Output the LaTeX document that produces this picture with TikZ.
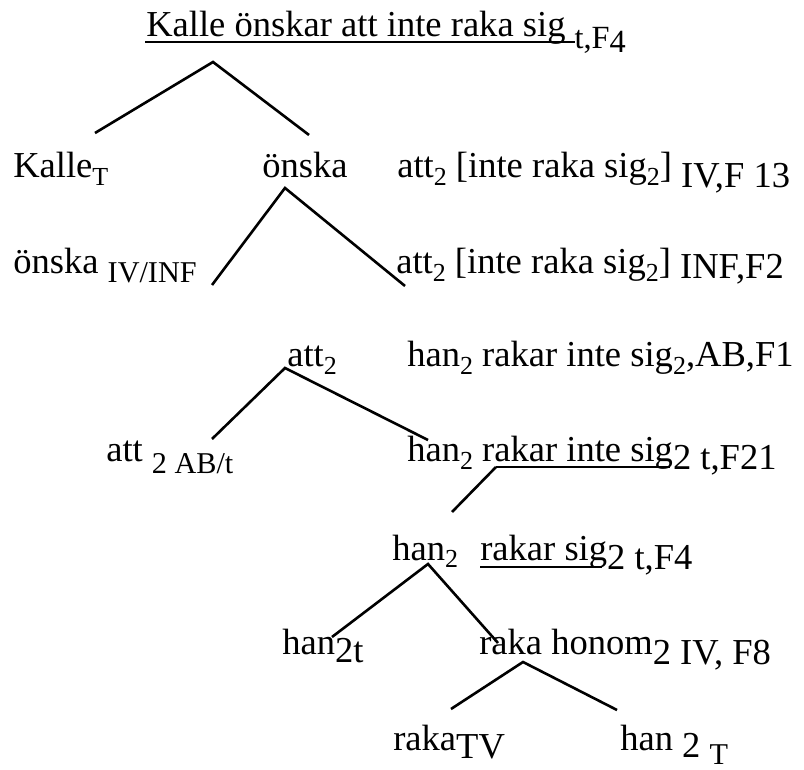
\documentclass[tikz,border=0pt]{standalone}
\usepackage{fontspec}
\setmainfont{Liberation Serif}
\newcommand{\lo}[2][0.2]{\raisebox{-#1cm}{\fontsize{18.5}{20}\selectfont #2}}
\newcommand{\lob}[2][0.2]{\raisebox{-#1cm}{\fontsize{21.5}{23}\selectfont #2}}
\newcommand{\dn}[2][0.25]{\raisebox{-#1cm}{#2}}
\begin{document}
\begin{tikzpicture}[
    lbl/.style={anchor=base west,inner sep=0pt,font=\fontsize{26}{30}\selectfont},
    branch/.style={black,line width=0.065cm},
    uline/.style={black,line width=0.045cm}]
    \useasboundingbox (0,0) rectangle (20.1,19.225);
    \node[lbl] (ttl) at (3.650, 18.300) {Kalle önskar att inte raka sig {\fontsize{23}{25}\selectfont\dn[0.3]{t,F\raisebox{-0.08cm}{4}}}};
    \node[lbl] (kal) at (0.325, 14.775) {Kalle\lo{T}};
    \node[lbl] (on1) at (6.550, 14.775) {önska};
    \node[lbl] (at1) at (9.925, 14.775) {att\lo{2} [inte raka sig\lo{2}] \dn[0.25]{IV,F 13}};
    \node[lbl] (on2) at (0.325, 12.375) {önska \lob[0.22]{IV/INF}};
    \node[lbl] (at2) at (9.900, 12.375) {att\lo{2} [inte raka sig\lo{2}] \dn[0.12]{INF,F2}};
    \node[lbl] (at3) at (7.175, 10.050) {att\lo{2}};
    \node[lbl] (ha1) at (10.175, 10.050) {han\lo{2} rakar inte sig\lo{2},AB,F1};
    \node[lbl] (at4) at (2.650, 7.675) {att \lob[0.28]{2 AB/t}};
    \node[lbl] (ha2) at (10.175, 7.675) {han\lo{2} rakar inte sig\dn[0.2]{2 t,F21}};
    \node[lbl] (ha3) at (9.800, 5.225) {han\lo{2}};
    \node[lbl] (rk1) at (12.000, 5.225) {rakar sig\dn{2 t,F4}};
    \node[lbl] (ha4) at (7.050, 2.875) {han\dn[0.22]{2t}};
    \node[lbl] (rk2) at (11.975, 2.875) {raka honom\dn{2 IV, F8}};
    \node[lbl] (rk3) at (9.825, 0.475) {raka\dn[0.2]{TV}};
    \node[lbl] (ha5) at (15.500, 0.475) {han \dn[0.18]{2} \lob[0.36]{T}};
    % branch ends
    \coordinate (t0) at (5.325, 17.675);
    \coordinate (t1) at (2.375, 15.900);
    \coordinate (t2) at (7.725, 15.850);
    \coordinate (o0) at (7.125, 14.525);
    \coordinate (o1) at (5.300, 12.100);
    \coordinate (o2) at (10.125, 12.075);
    \coordinate (a0) at (7.125, 10.025);
    \coordinate (a1) at (5.300, 8.250);
    \coordinate (a2) at (10.700, 8.225);
    \coordinate (u0) at (12.400, 7.550);
    \coordinate (u1) at (16.750, 7.550);
    \coordinate (h1) at (11.300, 6.425);
    \coordinate (h0) at (10.700, 5.125);
    \coordinate (h2) at (8.300, 3.300);
    \coordinate (h3) at (12.450, 3.150);
    \coordinate (r0) at (13.075, 2.675);
    \coordinate (r1) at (11.275, 1.500);
    \coordinate (r2) at (15.425, 1.475);
    \coordinate (v0) at (3.625, 18.175);
    \coordinate (v1) at (14.375, 18.175);
    \coordinate (w0) at (12.000, 5.050);
    \coordinate (w1) at (15.050, 5.050);
    \draw[branch] (t1) -- (t0) -- (t2);
    \draw[branch] (o1) -- (o0) -- (o2);
    \draw[branch] (a1) -- (a0) -- (a2);
    \draw[branch] (h1) -- (u0);
    \draw[branch] (h2) -- (h0) -- (h3);
    \draw[branch] (r1) -- (r0) -- (r2);
    % underlines
    \draw[uline] (v0) -- (v1);
    \draw[uline] (u0) -- (u1);
    \draw[uline] (w0) -- (w1);
  \end{tikzpicture}
\end{document}
